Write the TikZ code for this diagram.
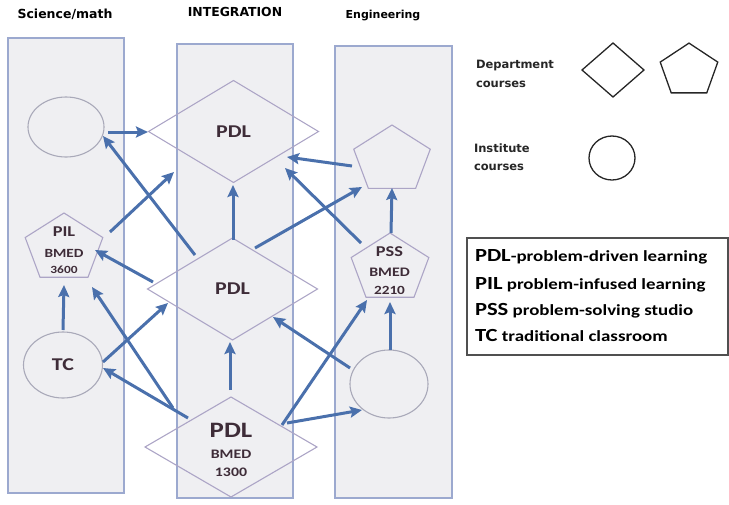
\documentclass[tikz,border=0pt]{standalone}
\usepackage{fontspec}
\setmainfont{Carlito}
\newfontfamily\nf[FakeStretch=1.22]{Carlito}
\newfontfamily\tf{DejaVu Sans}
\usetikzlibrary{shapes.geometric,arrows.meta,calc}
\definecolor{boxfill}{HTML}{EFEFF2}
\definecolor{boxline}{HTML}{9CA9CF}
\definecolor{shapeline}{HTML}{ACA5C6}
\definecolor{circline}{HTML}{A9A9B9}
\definecolor{arrowc}{HTML}{4A70AC}
\definecolor{txtc}{HTML}{3E2C38}
\definecolor{legline}{HTML}{505050}
\begin{document}
\begin{tikzpicture}[x=1pt,y=-1pt,
  colbox/.style={draw=boxline,fill=boxfill,line width=1.2pt,inner sep=0,outer sep=0},
  dia/.style={diamond,draw=shapeline,line width=1.1pt,minimum width=170pt,minimum height=102pt,inner sep=0,outer sep=0,text=txtc,font=\nf\bfseries\fontsize{18}{20}\selectfont},
  pent/.style={regular polygon,regular polygon sides=5,draw=shapeline,line width=1.1pt,inner sep=0,outer sep=0},
  ell/.style={ellipse,draw=circline,line width=1.1pt,inner sep=0,outer sep=0},
  lbl/.style={inner sep=0,outer sep=0,text=txtc,font=\nf\bfseries},
  title/.style={inner sep=0,outer sep=0,text=black,font=\tf\bfseries},
  legshape/.style={draw=black!85,line width=1.3pt,inner sep=0,outer sep=0},
  legtxt/.style={anchor=base west,inner sep=0,outer sep=0,text=black!85,font=\tf\bfseries\fontsize{11.5}{13}\selectfont},
  keytxt/.style={anchor=base west,inner sep=0,outer sep=0,text=black,font=\nf\bfseries\fontsize{15.5}{17}\selectfont},
  arr/.style={draw=arrowc,line width=3pt,-{Stealth[length=12pt,width=11pt,inset=2pt]}}
]
\useasboundingbox (0,0) rectangle (729,504);

% column backgrounds
\node[colbox,minimum width=116pt,minimum height=455pt] (colL) at (66,265.5) {};
\node[colbox,minimum width=116pt,minimum height=454pt] (colM) at (235,271) {};
\node[colbox,minimum width=117pt,minimum height=452pt] (colR) at (393.5,272) {};

% titles
\node[title,font=\tf\bfseries\fontsize{12.5}{14}\selectfont] (tL) at (65,14) {Science/math};
\node[title,font=\tf\bfseries\fontsize{12.4}{14}\selectfont] (tM) at (235,12) {INTEGRATION};
\node[title,font=\tf\bfseries\fontsize{11}{13}\selectfont] (tR) at (383,16) {Engineering};

% shapes
\node[ell,minimum width=76pt,minimum height=60pt] (cA) at (66,127) {};
\node[ell,minimum width=79pt,minimum height=66pt] (tc) at (63,365) {};
\node[ell,minimum width=78pt,minimum height=68pt] (ce) at (389,384) {};
\node[dia] (pdlt) at (233.5,131.5) {PDL};
\node[dia] (pdlm) at (232.5,289) {PDL};
\node[dia,minimum width=172pt,minimum height=100pt] (pdlb) at (231,447) {};
\begin{scope}[shift={(64,248.5)},xscale=1.15]
  \node[pent,minimum size=71pt,transform shape] (pil) at (0,0) {};
\end{scope}
\begin{scope}[shift={(392,160)},xscale=1.15]
  \node[pent,minimum size=70pt,transform shape] (pe) at (0,0) {};
\end{scope}
\begin{scope}[shift={(390,268.5)},xscale=1.15]
  \node[pent,minimum size=71pt,transform shape] (pss) at (0,0) {};
\end{scope}

% connectors
\draw[arr] ($(cA)+(42,5)$) -- ($(pdlt)+(-85.5,0.5)$);
\draw[arr] ($(pdlm)+(-37.5,-34)$) -- ($(cA)+(37,9)$);
\draw[arr] ($(pil)+(46,-16.5)$) -- ($(pdlt)+(-59.5,40.5)$);
\draw[arr] ($(pdlm)+(0.5,-49)$) -- ($(pdlt)+(-0.5,53.5)$);
\draw[arr] ($(pdlm)+(22.5,-41)$) -- ($(pe)+(-30,27)$);
\draw[arr] ($(pe)+(-40,6)$) -- ($(pdlt)+(53.5,25.5)$);
\draw[arr] ($(pss)+(-29,-25.5)$) -- ($(pdlt)+(51.5,36.5)$);
\draw[arr] ($(pdlm)+(-79.5,-7)$) -- ($(pil)+(31,1.5)$);
\draw[arr] ($(tc)+(0,-35)$) -- ($(pil)+(0,36.5)$);
\draw[arr] ($(tc)+(40,-3)$) -- ($(pdlm)+(-64.5,14)$);
\draw[arr] ($(pdlb)+(-43,-29)$) -- ($(tc)+(40,3)$);
\draw[arr] ($(pdlb)+(-58,-39)$) -- ($(pil)+(28,38.5)$);
\draw[arr] ($(pdlb)+(-1,-57)$) -- ($(pdlm)+(-2.5,53)$);
\draw[arr] ($(pdlb)+(56,-24)$) -- ($(ce)+(-27,26)$);
\draw[arr] ($(pdlb)+(51,-22)$) -- ($(pss)+(-23,31.5)$);
\draw[arr] ($(ce)+(-39,-16)$) -- ($(pdlm)+(40.5,28)$);
\draw[arr] ($(ce)+(1,-34)$) -- ($(pss)+(0,33.5)$);
\draw[arr] ($(pss)+(1,-35.5)$) -- ($(pe)+(0,28)$);

% labels inside shapes
\node[lbl,font=\nf\bfseries\fontsize{15}{17}\selectfont] (pilA) at (64,232) {PIL};
\node[lbl,font=\nf\bfseries\fontsize{12.5}{14}\selectfont] (pilB) at (64,253) {BMED};
\node[lbl,font=\nf\bfseries\fontsize{11}{13}\selectfont] (pilC) at (64,270) {3600};
\node[lbl,font=\nf\bfseries\fontsize{18}{20}\selectfont] (tcA) at (63,365) {TC};
\node[lbl,font=\nf\bfseries\fontsize{15}{17}\selectfont] (pssA) at (389.5,252) {PSS};
\node[lbl,font=\nf\bfseries\fontsize{13}{15}\selectfont] (pssB) at (389.5,272) {BMED};
\node[lbl,font=\nf\bfseries\fontsize{12.5}{14}\selectfont] (pssC) at (389.5,290) {2210};
\node[lbl,font=\nf\bfseries\fontsize{22}{24}\selectfont] (pdlbA) at (231,430) {PDL};
\node[lbl,font=\nf\bfseries\fontsize{13}{15}\selectfont] (pdlbB) at (231,454) {BMED};
\node[lbl,font=\nf\bfseries\fontsize{13}{15}\selectfont] (pdlbC) at (231,472) {1300};

% legend
\node[legtxt] (lg1) at (476,68) {Department};
\node[legtxt] (lg2) at (476,87) {courses};
\node[legtxt] (lg3) at (474,152) {Institute};
\node[legtxt] (lg4) at (474,170) {courses};
\node[legshape,diamond,minimum width=62pt,minimum height=54pt] (ldia) at (613,70) {};
\begin{scope}[shift={(689,70.6)},xscale=1.1]
  \node[legshape,regular polygon,regular polygon sides=5,minimum size=55pt,transform shape] (lpent) at (0,0) {};
\end{scope}
\node[legshape,ellipse,minimum width=46pt,minimum height=44pt] (lcirc) at (612,158) {};

\node[draw=legline,line width=1.2pt,minimum width=261pt,minimum height=117pt,inner sep=0,outer sep=0] (legbox) at (597.5,296.5) {};
\node[keytxt] (k1) at (475,261) {{\fontsize{18.5}{20}\selectfont PDL}-problem-driven learning};
\node[keytxt] (k2) at (475,289) {{\fontsize{18.5}{20}\selectfont PIL} problem-infused learning};
\node[keytxt] (k3) at (475,315) {{\fontsize{18.5}{20}\selectfont PSS} problem-solving studio};
\node[keytxt] (k4) at (475,341) {{\fontsize{18.5}{20}\selectfont TC} traditional classroom};
\end{tikzpicture}
\end{document}
